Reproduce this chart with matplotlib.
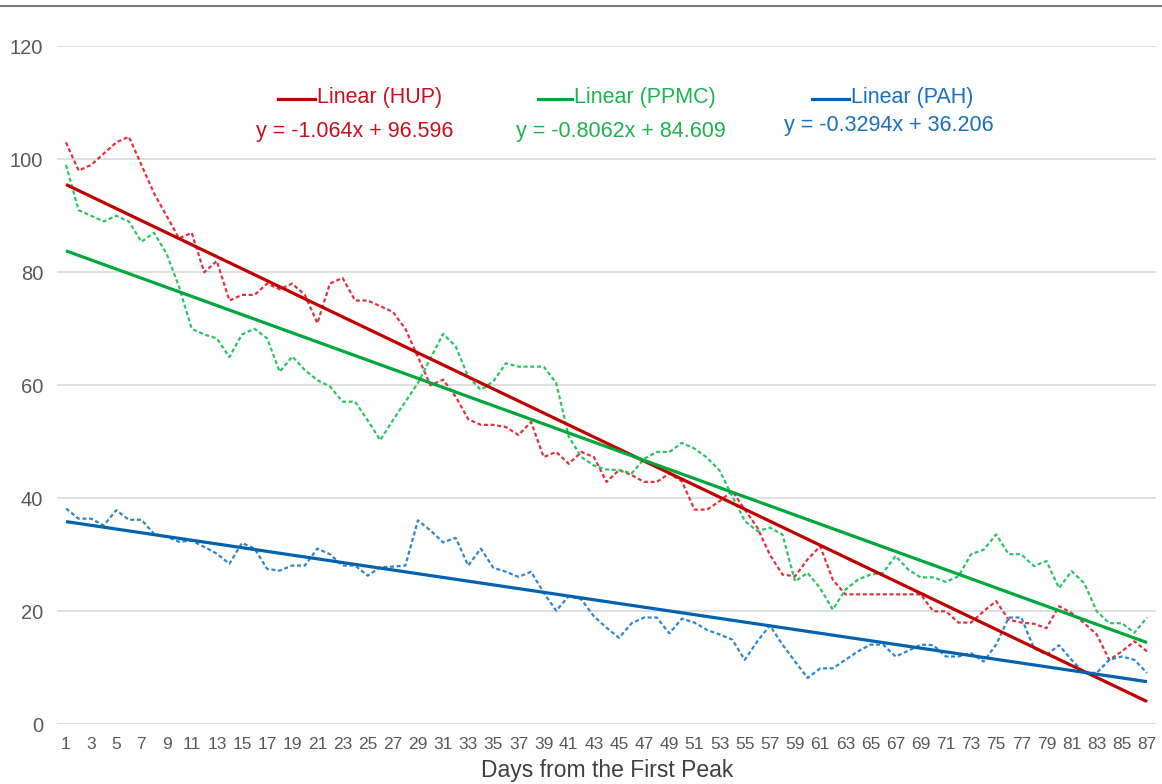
import numpy as np
import matplotlib
matplotlib.use("Agg")
import matplotlib.pyplot as plt
from matplotlib.lines import Line2D

plt.rcParams['font.family'] = ['Liberation Sans', 'DejaVu Sans']

# values
days = list(range(1, 88))

hup = [103, 98, 99, 101, 103, 104, 99, 94, 90, 86,
       87, 80, 82, 75, 76, 76, 78, 77, 78, 76,
       71, 78, 79, 75, 75, 74, 73, 70, 65, 60,
       61, 58, 54, 53, 53, 52.6, 51.2, 53.5, 47.3, 48.2,
       46.1, 48.2, 47.3, 42.9, 45, 44.1, 42.9, 42.9, 44.4, 43,
       38, 38, 39.5, 41.3, 38, 34.8, 30, 26.5, 26.2, 29.2,
       31.5, 25.6, 23, 23, 23, 23, 23, 23, 23, 20,
       20, 18, 18, 20, 21.8, 18.5, 18, 17.8, 17, 20.9,
       19.7, 17.9, 15.9, 11.4, 12.9, 14.7, 12.9]

ppmc = [99, 91, 90, 89, 90, 89, 85.4, 87, 83.3, 77.4,
        70, 69, 68.3, 65, 69, 70, 68.3, 62.4, 65.1, 62.7,
        60.9, 59.8, 57.1, 57.1, 53.8, 50.3, 53.8, 57.1, 60.4, 64.8,
        69.1, 66.9, 61.5, 59.2, 60.7, 63.9, 63.3, 63.3, 63.3, 60.4,
        50.9, 47.3, 45.8, 45.1, 45, 44.4, 47, 48.2, 48.2, 49.8,
        48.8, 47.2, 44.9, 40.4, 36, 34.2, 34.8, 33.6, 25.3, 26.8,
        24.1, 20.3, 23.8, 25.6, 26.5, 26.8, 29.8, 27.4, 26, 26,
        25.2, 26.2, 30.1, 30.9, 33.6, 30.1, 30.1, 28, 28.9, 24.1,
        27.1, 25, 20, 17.9, 17.9, 16.2, 18.9]

pah = [38.2, 36.4, 36.4, 35.2, 37.9, 36.2, 36.2, 33.7, 33.2, 32.3,
       32.5, 31.4, 30.2, 28.4, 32.1, 31.1, 27.5, 27.2, 28.1, 28.1,
       31.1, 30.1, 28.1, 28.1, 26.3, 27.8, 27.9, 28.1, 36.1, 34.3,
       32.2, 33, 28.1, 31.1, 27.7, 27, 26.1, 27, 23.3, 20.1,
       22.7, 22.1, 19.1, 17.1, 15.3, 17.9, 18.9, 18.9, 16.1, 18.7,
       18, 16.7, 15.9, 15, 11.4, 14.7, 17.5, 14.1, 11.1, 8.2,
       9.9, 9.9, 11.4, 12.9, 14.1, 14.1, 12, 13, 14.1, 14,
       12, 12, 12.6, 11.1, 14.1, 18.9, 18.9, 13.5, 12.3, 14,
       11.4, 9.1, 9.1, 11.4, 12, 11.4, 9.1]

# linear trend coefficients as printed on the chart
series_names = ['HUP', 'PPMC', 'PAH']
slopes = [-1.064, -0.8062, -0.3294]
intercepts = [96.596, 84.609, 36.206]
equations = ['y = -1.064x + 96.596', 'y = -0.8062x + 84.609', 'y = -0.3294x + 36.206']

W, H = 1162, 784
def fx(px):
    return px / W
def fy(py):
    return 1 - py / H

data_cols = ['#e0323c', '#2cc463', '#2f86cc']
trend_cols = ['#c00000', '#00a83c', '#0062b0']
text_cols = ['#c8101e', '#1fb24f', '#1a6fbf']

fig = plt.figure(figsize=(W / 100, H / 100), dpi=100)
ax = fig.add_axes([fx(57), fy(724.3), fx(1156) - fx(57), fy(46.3) - fy(724.3)])

x = np.array(days)
for vals, c in zip([hup, ppmc, pah], data_cols):
    ax.plot(x, vals, color=c, lw=1.6, ls=(0, (1.8, 1.2)), zorder=3)

for sl, ic, c in zip(slopes, intercepts, trend_cols):
    tx = np.array([days[0], days[-1]])
    ax.plot(tx, sl * tx + ic, color=c, lw=2.3, zorder=4, solid_capstyle='butt')

ax.set_ylim(0, 120)
ax.set_xlim(1 - 9 / 12.57, 87 + 9 / 12.57)
ax.set_yticks(range(0, 121, 20))
ax.set_xticks(days[::2])
ax.set_xticklabels([str(d) for d in days[::2]], fontsize=12.5)
ax.tick_params(axis='x', length=0, pad=9, colors='#595959')
ax.tick_params(axis='y', length=0, pad=10, labelsize=14.5, colors='#595959')
for s in ax.spines.values():
    s.set_visible(False)
ax.yaxis.grid(True, color='#d9d9d9', lw=1.2)
ax.set_axisbelow(True)

fig.text(fx(607), fy(771), 'Days from the First Peak', ha='center', va='center',
         fontsize=16.5, color='#404040')

# top rule
fig.add_artist(Line2D([0, 1], [fy(6), fy(6)], transform=fig.transFigure, color='#7a7a7a', lw=1.5))

# trendline labels
seg_x = [(278, 315), (538, 572), (812, 849)]
leg_y = [98, 98, 98]
eq_x = [355, 621, 889]
eq_y = [131, 131, 126]
for i in range(3):
    x0, x1 = seg_x[i]
    fig.add_artist(Line2D([fx(x0), fx(x1)], [fy(leg_y[i] + 1)] * 2, transform=fig.transFigure,
                          color=trend_cols[i], lw=2.3))
    fig.text(fx(x1 + 2), fy(leg_y[i]), 'Linear (%s)' % series_names[i], ha='left', va='center',
             fontsize=15.5, color=text_cols[i])
    fig.text(fx(eq_x[i]), fy(eq_y[i]), equations[i], ha='center', va='center',
             fontsize=15.5, color=text_cols[i])

fig.savefig('out.png', dpi=100)
